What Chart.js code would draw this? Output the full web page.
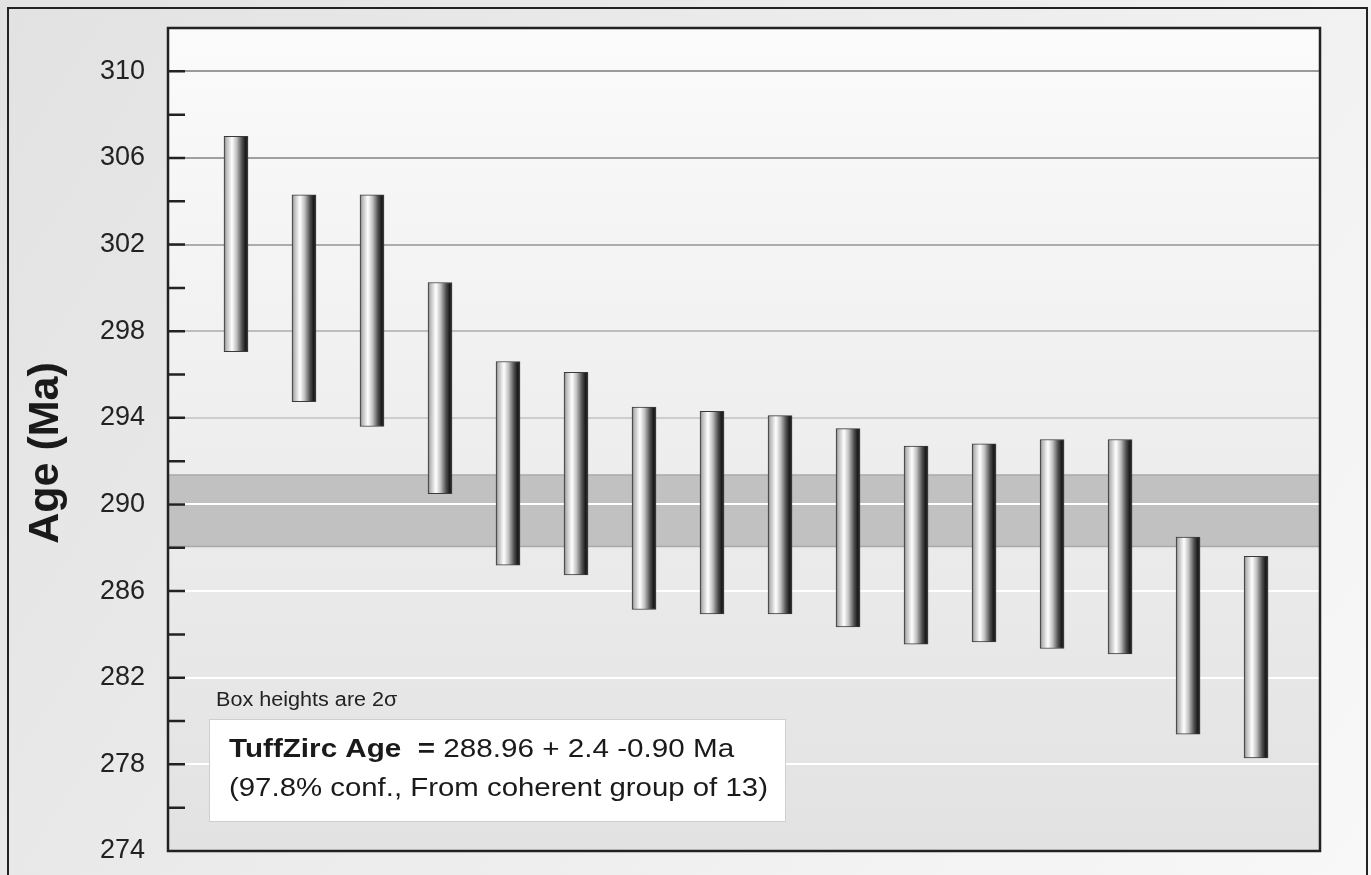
<!DOCTYPE html>
<html>
<head>
<meta charset="utf-8">
<script src="https://cdn.jsdelivr.net/npm/chart.js@4"></script>
<style>
    body { margin: 0; background: #ffffff; }
    #wrap { width: 1371px; height: 875px; position: relative; }
</style>
</head>
<body>
<div id="wrap"><canvas id="myChart"></canvas></div>
<script>
// grain number along the x axis
const grains = [1, 2, 3, 4, 5, 6, 7, 8, 9, 10, 11, 12, 13, 14, 15, 16];
// 2-sigma box tops and bottoms (Ma)
const ageHigh = [307.0, 304.3, 304.3, 300.25, 296.6, 296.1, 294.5, 294.3, 294.1, 293.5, 292.7, 292.8, 293.0, 293.0, 288.5, 287.6];
const ageLow = [297.05, 294.75, 293.6, 290.5, 287.2, 286.75, 285.15, 284.95, 284.95, 284.35, 283.55, 283.65, 283.35, 283.1, 279.4, 278.3];
// y axis
const yMin = 274;
const yMax = 312;
const yStep = 2;
const yLabelEvery = 4;
// TuffZirc result
const tuffZircAge = 288.96;
const agePlus = 2.4;
const ageMinus = 0.90;
const confidence = 97.8;
const groupSize = 13;

const FONT = '"Liberation Sans", Arial, Helvetica, sans-serif';

const gridColors = {
    310: '#9a9a9a',
    306: '#a0a0a0',
    302: '#acacac',
    298: '#bdbdbd',
    294: '#cdcdcd'
};

function barGradient(context)
{
    const chart = context.chart;
    if (!chart.chartArea) return '#cccccc';
    const x = chart.scales.x.getPixelForValue(grains[context.dataIndex]);
    const g = chart.ctx.createLinearGradient(x - 12, 0, x + 12, 0);
    g.addColorStop(0, '#6c6c6c');
    g.addColorStop(0.08, '#b4b4b4');
    g.addColorStop(0.33, '#ffffff');
    g.addColorStop(0.52, '#c2c2c2');
    g.addColorStop(0.75, '#505050');
    g.addColorStop(0.9, '#1a1a1a');
    g.addColorStop(1, '#363636');
    return g;
}

function stretchText(ctx, text, x, y, sx)
{
    ctx.save();
    ctx.translate(x, y);
    ctx.scale(sx, 1);
    ctx.fillText(text, 0, 0);
    const w = ctx.measureText(text).width * sx;
    ctx.restore();
    return w;
}

const backdrop = {
    id: 'backdrop',
    beforeDraw(chart)
    {
        const { ctx, chartArea: a, scales: { y } } = chart;
        ctx.save();
        const bg = ctx.createLinearGradient(0, 0, chart.width, chart.height);
        bg.addColorStop(0, '#e2e2e2');
        bg.addColorStop(1, '#f8f8f8');
        ctx.fillStyle = bg;
        ctx.fillRect(0, 0, chart.width, chart.height);

        const pg = ctx.createLinearGradient(0, a.top, 0, a.bottom);
        pg.addColorStop(0, '#fbfbfb');
        pg.addColorStop(0.5, '#eeeeee');
        pg.addColorStop(1, '#e2e2e2');
        ctx.fillStyle = pg;
        ctx.fillRect(a.left, a.top, a.right - a.left, a.bottom - a.top);

        // TuffZirc age band
        const yTop = y.getPixelForValue(tuffZircAge + agePlus);
        const yBot = y.getPixelForValue(tuffZircAge - ageMinus);
        ctx.fillStyle = '#c1c1c1';
        ctx.fillRect(a.left, yTop, a.right - a.left, yBot - yTop);
        ctx.strokeStyle = '#a9a9a9';
        ctx.lineWidth = 1.5;
        ctx.beginPath();
        ctx.moveTo(a.left, yTop); ctx.lineTo(a.right, yTop);
        ctx.moveTo(a.left, yBot); ctx.lineTo(a.right, yBot);
        ctx.stroke();
        ctx.restore();
    },
    afterDraw(chart)
    {
        const { ctx, chartArea: a, scales: { y } } = chart;
        ctx.save();
        // outer frame
        ctx.strokeStyle = '#222222';
        ctx.lineWidth = 2;
        ctx.strokeRect(8, 8, chart.width - 12, chart.height + 10);

        // plot frame
        ctx.lineWidth = 2.5;
        ctx.strokeRect(a.left, a.top, a.right - a.left, a.bottom - a.top);

        // inward tick marks
        ctx.beginPath();
        y.ticks.forEach(t =>
        {
            if (t.value <= yMin || t.value >= yMax) return;
            const py = y.getPixelForValue(t.value);
            ctx.moveTo(a.left, py);
            ctx.lineTo(a.left + 17, py);
        });
        ctx.stroke();

        // y title
        ctx.fillStyle = '#1a1a1a';
        ctx.font = 'bold 43px ' + FONT;
        ctx.textAlign = 'center';
        ctx.textBaseline = 'middle';
        ctx.save();
        ctx.translate(46, 453);
        ctx.rotate(-Math.PI / 2);
        ctx.fillText('Age (Ma)', 0, 0);
        ctx.restore();

        // note and result box
        ctx.textAlign = 'left';
        ctx.textBaseline = 'alphabetic';
        ctx.fillStyle = '#222222';
        ctx.font = '20px ' + FONT;
        stretchText(ctx, 'Box heights are 2\u03c3', 216, 706, 1.08);

        ctx.fillStyle = '#ffffff';
        ctx.fillRect(209, 719, 576, 102);
        ctx.strokeStyle = '#cfcfcf';
        ctx.lineWidth = 1;
        ctx.strokeRect(209.5, 719.5, 576, 102);

        ctx.fillStyle = '#1a1a1a';
        ctx.font = 'bold 26px ' + FONT;
        let w = stretchText(ctx, 'TuffZirc Age  =', 229, 757, 1.14);
        ctx.font = '26px ' + FONT;
        stretchText(ctx, ' ' + tuffZircAge.toFixed(2) + ' + ' + agePlus + ' -' + ageMinus.toFixed(2) + ' Ma', 229 + w, 757, 1.14);
        stretchText(ctx, '(' + confidence + '% conf., From coherent group of ' + groupSize + ')', 229, 796, 1.13);
        ctx.restore();
    }
};

new Chart(document.getElementById('myChart').getContext('2d'), {
    type: 'bar',
    data: {
        datasets: [
            {
                data: grains.map((g, i) => ({ x: g, y: [ageLow[i], ageHigh[i]] })),
                backgroundColor: barGradient,
                borderColor: '#3a3a3a',
                borderWidth: 1,
                borderSkipped: false,
                barThickness: 24
            }
        ]
    },
    options: {
        responsive: true,
        maintainAspectRatio: false,
        animation: false,
        layout: {
            padding: { left: 0, right: 51, top: 28, bottom: 24 }
        },
        plugins: {
            legend: { display: false },
            tooltip: { enabled: false }
        },
        scales: {
            x: {
                type: 'linear',
                min: 0,
                max: 16.94,
                offset: false,
                display: false
            },
            y: {
                min: yMin,
                max: yMax,
                afterFit: scale =>
                {
                    scale.width = 168;
                    scale.paddingTop = 0;
                    scale.paddingBottom = 0;
                },
                border: { display: false },
                grid: {
                    drawTicks: false,
                    lineWidth: 2,
                    color: ctx =>
                    {
                        const v = ctx.tick ? ctx.tick.value : 0;
                        if ((v - yMin) % yLabelEvery !== 0 || v <= yMin) return 'rgba(0,0,0,0)';
                        return gridColors[v] || '#ffffff';
                    }
                },
                ticks: {
                    stepSize: yStep,
                    padding: 23,
                    color: '#222222',
                    font: { family: FONT, size: 27 },
                    callback: v => ((v - yMin) % yLabelEvery === 0 ? String(v) : '')
                }
            }
        }
    },
    plugins: [backdrop]
});
</script>
</body>
</html>
